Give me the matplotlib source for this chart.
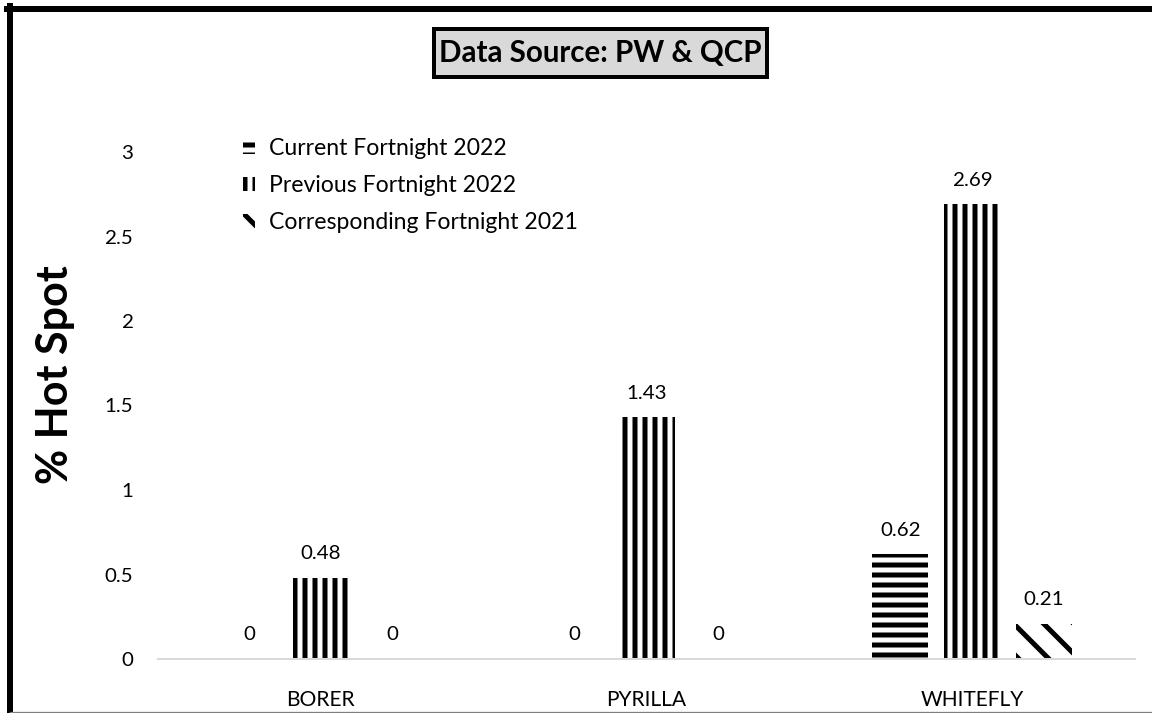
import matplotlib
matplotlib.use("Agg")
import matplotlib.pyplot as plt
import numpy as np
from matplotlib.lines import Line2D
from matplotlib.patches import Rectangle

# data
categories = ["BORER", "PYRILLA", "WHITEFLY"]
current_2022 = [0, 0, 0.62]
previous_2022 = [0.48, 1.43, 2.69]
corresponding_2021 = [0, 0, 0.21]
series_names = ["Current Fortnight 2022", "Previous Fortnight 2022",
                "Corresponding Fortnight 2021"]
yticks = [0, 0.5, 1, 1.5, 2, 2.5, 3]

DPI = 180
W, H = 1152, 713


def pt(px):
    # pixel size -> points at the save dpi
    return px * 72 / DPI


plt.rcParams['font.family'] = ['Lato', 'DejaVu Sans']
plt.rcParams['hatch.linewidth'] = pt(5)

fig = plt.figure(figsize=(W / DPI, H / DPI), dpi=DPI)
ax = fig.add_axes([158 / W, 1 - 659 / H, (1135 - 158) / W, (659 - 152) / H])

x = np.arange(len(categories))
width = 0.172
step = 0.221
hatches = ['---', '|||', '\\\\']
series = [current_2022, previous_2022, corresponding_2021]

for i, (vals, name, h) in enumerate(zip(series, series_names, hatches)):
    bars = ax.bar(x + (i - 1) * step, vals, width, color='white', edgecolor='black',
                  linewidth=0, hatch=h, label=name)
    for b, v in zip(bars, vals):
        ax.annotate(f"{v:g}", (b.get_x() + b.get_width() / 2, v),
                    xytext=(0, pt(24)), textcoords='offset points',
                    ha='center', va='center', fontsize=pt(20.5))

ax.set_xlim(-0.5, 2.5)
ax.set_ylim(0, 3)
ax.set_yticks(yticks)
ax.set_yticklabels([f"{t:g}" for t in yticks])
ax.set_xticks(x)
ax.set_xticklabels(categories)
ax.tick_params(axis='y', length=0, pad=pt(25), labelsize=pt(20.5))
ax.tick_params(axis='x', length=0, pad=pt(31), labelsize=pt(21))
for s in ['top', 'right', 'left']:
    ax.spines[s].set_visible(False)
ax.spines['bottom'].set_color('#d9d9d9')
ax.spines['bottom'].set_linewidth(pt(2))

ax.legend(loc='upper left', bbox_to_anchor=(243 / W, 1 - 138 / H),
          bbox_transform=fig.transFigure, frameon=False, fontsize=pt(23),
          handlelength=0.5, handleheight=0.6, handletextpad=0.65,
          labelspacing=0.7, borderaxespad=0, borderpad=0)

fig.text(55 / W, 1 - 375 / H, "% Hot Spot", rotation=90, fontsize=pt(43),
         fontweight='bold', ha='center', va='center')

# title box
fig.add_artist(Rectangle((434 / W, 1 - 77 / H), (767 - 434) / W, (77 - 29) / H,
                         facecolor='#d9d9d9', edgecolor='black', linewidth=pt(4),
                         transform=fig.transFigure))
fig.text(600 / W, 1 - 53 / H, "Data Source: PW & QCP", fontsize=pt(29.5),
         fontweight='bold', ha='center', va='center')

# frame of the chart area
fig.add_artist(Line2D([10 / W, 10 / W], [0, 1 - 6 / H], color='black',
                      linewidth=pt(6), transform=fig.transFigure))
fig.add_artist(Line2D([7 / W, 1], [1 - 9 / H, 1 - 9 / H], color='black',
                      linewidth=pt(6), transform=fig.transFigure))
fig.add_artist(Line2D([10 / W, 1], [1.5 / H, 1.5 / H], color='#7f7f7f',
                      linewidth=pt(1.3), transform=fig.transFigure))

fig.savefig("out.png", dpi=DPI)
